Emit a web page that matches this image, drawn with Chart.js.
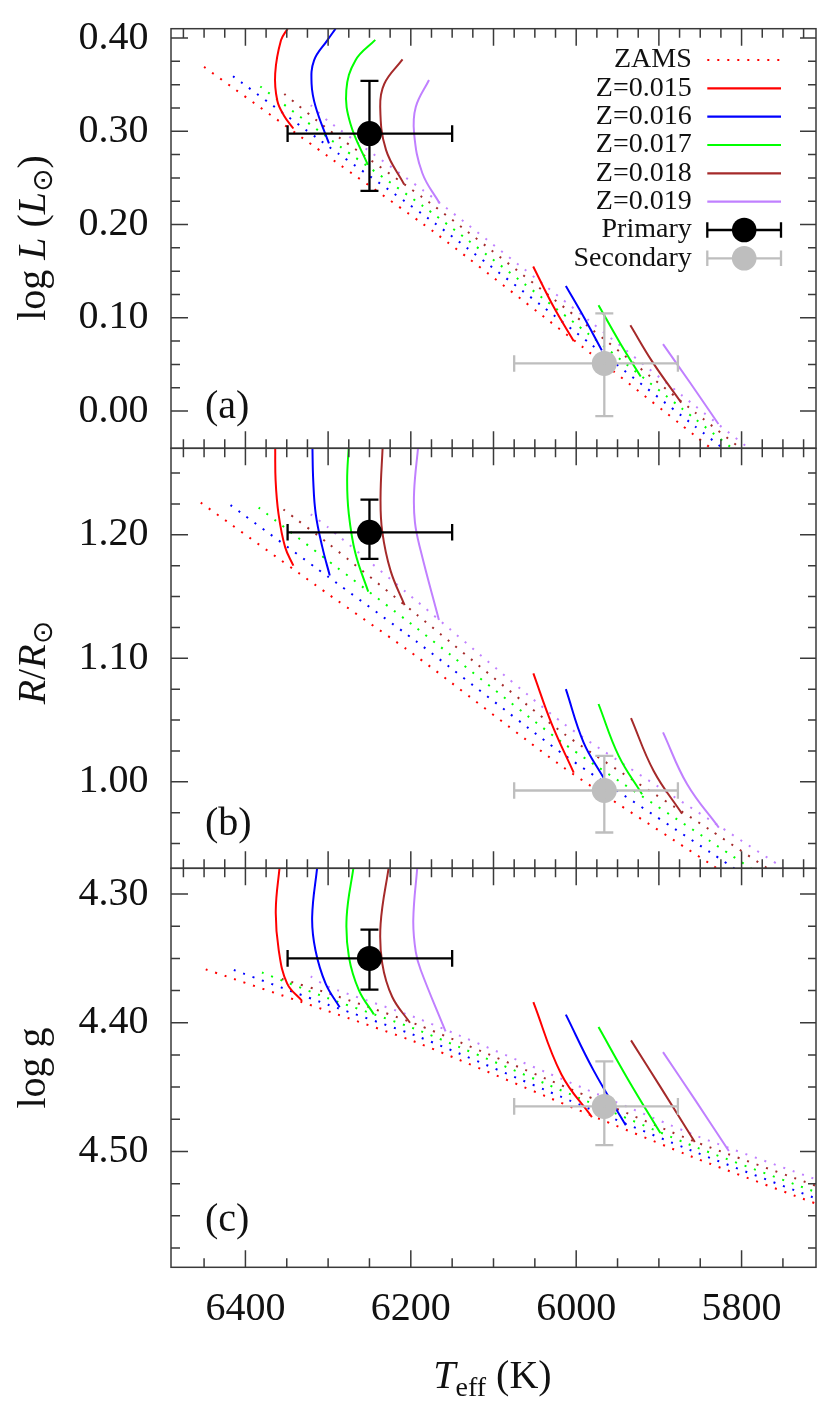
<!DOCTYPE html>
<html><head><meta charset="utf-8">
<script src="https://cdn.jsdelivr.net/npm/chart.js@4.4.1/dist/chart.umd.min.js"></script>
<style>
html,body{margin:0;padding:0;background:#fff;}
#wrap{position:relative;width:837px;height:1412px;background:#fff;}
#wrap canvas{position:absolute;left:0;top:0;}
</style></head><body>
<div id="wrap">
<canvas id="cA" width="837" height="1412"></canvas>
<canvas id="cB" width="837" height="1412"></canvas>
<canvas id="cC" width="837" height="1412"></canvas>
</div>
<script>
// ---------- axes ----------
const teffRange = [5710, 6490];
const teffTickLabels = [6400, 6200, 6000, 5800];
const logLRange = [-0.04, 0.41];
const logLTickLabels = [0.00, 0.10, 0.20, 0.30, 0.40];
const radiusRange = [0.93, 1.27];
const radiusTickLabels = [1.00, 1.10, 1.20];
const loggRange = [4.28, 4.59];
const loggTickLabels = [4.30, 4.40, 4.50];

// ---------- series ----------
const metalLabels = ['Z=0.015', 'Z=0.016', 'Z=0.017', 'Z=0.018', 'Z=0.019'];
const metalColors = ['#ff0000', '#0000ff', '#00ff00', '#a52a2a', '#c080ff'];

// stars: [Primary, Secondary]
const starNames = ['Primary', 'Secondary'];
const starColors = ['#000000', '#bebebe'];
const starTeff = [6250, 5966];
const starTeffLow = [6150, 5877];
const starTeffHigh = [6349, 6075];
const starLogL = [0.2975, 0.051];
const starLogLLow = [0.236, -0.0055];
const starLogLHigh = [0.354, 0.1046];
const starR = [1.202, 0.993];
const starRLow = [1.1805, 0.959];
const starRHigh = [1.2284, 1.021];
const starLogg = [4.350, 4.465];
const starLoggLow = [4.3277, 4.430];
const starLoggHigh = [4.3743, 4.495];

// panel (a): log L  [Teff, value]
const zamsLogL015 = [[6450,0.369],[6300,0.273],[6172,0.192],[6000,0.074],[5857,-0.026],[5760,-0.094]];
const zamsLogL016 = [[6415,0.359],[6300,0.284],[6172,0.202],[6000,0.084],[5857,-0.016],[5760,-0.084]];
const zamsLogL017 = [[6382,0.348],[6300,0.293],[6172,0.211],[6000,0.093],[5857,-0.008],[5760,-0.076]];
const zamsLogL018 = [[6353,0.340],[6300,0.302],[6172,0.220],[6000,0.101],[5857,-0.001],[5760,-0.069]];
const zamsLogL019 = [[6321,0.328],[6300,0.311],[6172,0.228],[6000,0.108],[5857,0.006],[5760,-0.062]];
const isoPLogL015 = [[6349,0.410],[6357,0.3975],[6364,0.362],[6361.5,0.333],[6353.5,0.317],[6342,0.303]];
const isoPLogL016 = [[6291,0.410],[6301,0.3975],[6317,0.376],[6320,0.351],[6315,0.326],[6299,0.287]];
const isoPLogL017 = [[6243,0.398],[6267,0.376],[6278,0.344],[6273,0.308],[6252,0.264]];
const isoPLogL018 = [[6210,0.377],[6232,0.351],[6237,0.326],[6230,0.280],[6208,0.243]];
const isoPLogL019 = [[6178,0.355],[6194,0.326],[6196,0.2975],[6186,0.255],[6165,0.2225]];
const isoSLogL015 = [[6052,0.155],[6027.5,0.112],[6003,0.075]];
const isoSLogL016 = [[6012.5,0.134],[5991,0.101],[5969,0.065]];
const isoSLogL017 = [[5973,0.1135],[5947,0.073],[5922,0.037]];
const isoSLogL018 = [[5934.5,0.092],[5908,0.053],[5873,0.009]];
const isoSLogL019 = [[5895,0.0717],[5862,0.030],[5828,-0.014]];

// panel (b): R/Rsun
const zamsR015 = [[6454,1.226],[6300,1.152],[6194,1.102],[6015,1.0115],[5838,0.9336],[5740,0.890]];
const zamsR016 = [[6418,1.224],[6300,1.166],[6194,1.114],[6015,1.022],[5838,0.943],[5740,0.899]];
const zamsR017 = [[6384,1.222],[6300,1.179],[6194,1.125],[6015,1.031],[5838,0.952],[5740,0.908]];
const zamsR018 = [[6354,1.2205],[6300,1.193],[6194,1.136],[6015,1.039],[5838,0.961],[5740,0.917]];
const zamsR019 = [[6321,1.2165],[6300,1.206],[6194,1.147],[6015,1.047],[5838,0.969],[5740,0.926]];
const isoPR015 = [[6364,1.272],[6363.5,1.244],[6360,1.217],[6352,1.190],[6342,1.175]];
const isoPR016 = [[6319,1.272],[6318,1.244],[6315,1.217],[6307,1.190],[6298,1.167]];
const isoPR017 = [[6275,1.272],[6277,1.244],[6275,1.217],[6267,1.185],[6251.5,1.154]];
const isoPR018 = [[6234,1.272],[6236.6,1.230],[6234.6,1.203],[6224.5,1.171],[6207.5,1.143]];
const isoPR019 = [[6191,1.272],[6196,1.235],[6195,1.210],[6188,1.187],[6166,1.131]];
const isoSR015 = [[6051.8,1.0878],[6029.5,1.0467],[6003,1.0075]];
const isoSR016 = [[6012.5,1.075],[5991,1.0318],[5967,1.0034]];
const isoSR017 = [[5973,1.063],[5948.6,1.021],[5920.4,0.990]];
const isoSR018 = [[5933.7,1.0516],[5906.3,1.0088],[5872,0.9742]];
const isoSR019 = [[5895,1.040],[5865.8,0.998],[5827.5,0.9629]];

// panel (c): log g
const zamsLogg015 = [[6448,4.3585],[6300,4.391],[6190,4.416],[5987,4.4706],[5854,4.5056],[5700,4.543]];
const zamsLogg016 = [[6414,4.359],[6300,4.386],[6190,4.411],[5987,4.466],[5854,4.501],[5700,4.539]];
const zamsLogg017 = [[6380,4.361],[6300,4.381],[6190,4.406],[5987,4.461],[5854,4.497],[5700,4.534]];
const zamsLogg018 = [[6356,4.366],[6300,4.377],[6190,4.402],[5987,4.457],[5854,4.493],[5700,4.529]];
const zamsLogg019 = [[6321,4.364],[6300,4.372],[6190,4.397],[5987,4.452],[5854,4.488],[5700,4.524]];
const isoPLogg015 = [[6358.5,4.278],[6363.3,4.3127],[6359.7,4.3437],[6349.5,4.3696],[6331.5,4.383]];
const isoPLogg016 = [[6313,4.278],[6319.3,4.3179],[6315.3,4.3437],[6303,4.3696],[6286,4.388]];
const isoPLogg017 = [[6269,4.278],[6277.6,4.3179],[6274.8,4.349],[6262.7,4.3748],[6244.7,4.3935]];
const isoPLogg018 = [[6226.4,4.278],[6236.5,4.3231],[6234.5,4.3541],[6222.4,4.380],[6201,4.400]];
const isoPLogg019 = [[6192,4.278],[6197,4.320],[6194,4.345],[6188,4.359],[6158,4.4067]];
const isoSLogg015 = [[6051.8,4.384],[6018,4.440],[5981,4.4733]];
const isoSLogg016 = [[6012.5,4.3937],[5979,4.437],[5940,4.4797]];
const isoSLogg017 = [[5973,4.4033],[5936.6,4.4448],[5898.2,4.4857]];
const isoSLogg018 = [[5933.7,4.4137],[5898,4.450],[5856.6,4.4927]];
const isoSLogg019 = [[5895,4.4228],[5855.8,4.4603],[5815.4,4.4997]];

// ---------- styling ----------
const FAM = '"Liberation Serif", "Times New Roman", serif';
const FN = '40px ' + FAM;
const FI = 'italic 40px ' + FAM;
const FSUB = '28px ' + FAM;
const FSUN = '28px "DejaVu Sans"';
const FRAME = '#3a3a3a';
const TXT = '#111111';

function curve(points, color, dotted) {
  return {
    data: points.map(p => ({x: p[0], y: p[1]})),
    showLine: true, pointRadius: 0, pointHoverRadius: 0, pointHitRadius: 0,
    borderColor: color, borderWidth: 2,
    borderDash: dotted ? [2, 8] : [],
    borderCapStyle: 'butt',
    tension: dotted ? 0.2 : 0.4,
    fill: false, clip: 0, order: dotted ? 3 : 2
  };
}
function starDs(x, y, color) {
  return {
    data: [{x: x, y: y}], showLine: false,
    pointRadius: 12.5, pointHoverRadius: 12.5, pointBorderWidth: 0,
    pointBackgroundColor: color, pointBorderColor: color,
    backgroundColor: color, borderColor: color, order: 0, clip: 0
  };
}
function richText(ctx, segs, x, y, align, rot) {
  ctx.save();
  ctx.translate(x, y);
  if (rot) ctx.rotate(rot);
  ctx.textBaseline = 'alphabetic';
  ctx.textAlign = 'left';
  let w = 0;
  segs.forEach(s => { ctx.font = s.f; w += ctx.measureText(s.t).width; });
  let cx = align === 'center' ? -w / 2 : 0;
  segs.forEach(s => {
    ctx.font = s.f;
    ctx.fillText(s.t, cx, s.dy || 0);
    cx += ctx.measureText(s.t).width;
  });
  ctx.restore();
}

function makeDecor(p) {
  return {
    id: 'decor' + p.name,
    afterDatasetsDraw(chart) {
      const ctx = chart.ctx, xs = chart.scales.x, ys = chart.scales.y;
      ctx.save();
      ctx.lineWidth = 2.3;
      ctx.lineCap = 'butt';
      ctx.setLineDash([]);
      for (let i = 0; i < starTeff.length; i++) {
        ctx.strokeStyle = starColors[i];
        const px = xs.getPixelForValue(starTeff[i]);
        const py = ys.getPixelForValue(p.starVal[i]);
        const x1 = xs.getPixelForValue(starTeffHigh[i]);
        const x2 = xs.getPixelForValue(starTeffLow[i]);
        const y1 = ys.getPixelForValue(p.starLow[i]);
        const y2 = ys.getPixelForValue(p.starHigh[i]);
        ctx.beginPath();
        ctx.moveTo(x1, py); ctx.lineTo(x2, py);
        ctx.moveTo(x1, py - 8.3); ctx.lineTo(x1, py + 8.3);
        ctx.moveTo(x2, py - 8.3); ctx.lineTo(x2, py + 8.3);
        ctx.moveTo(px, y1); ctx.lineTo(px, y2);
        ctx.moveTo(px - 9, y1); ctx.lineTo(px + 9, y1);
        ctx.moveTo(px - 9, y2); ctx.lineTo(px + 9, y2);
        ctx.stroke();
      }
      ctx.restore();
    },
    afterDraw(chart) {
      const ctx = chart.ctx, a = chart.chartArea, xs = chart.scales.x, ys = chart.scales.y;
      ctx.save();
      ctx.setLineDash([]);
      ctx.strokeStyle = FRAME;
      ctx.lineWidth = 1.5;
      ctx.beginPath();
      for (let v = Math.ceil(teffRange[0] / 25) * 25; v <= teffRange[1]; v += 25) {
        const px = xs.getPixelForValue(v);
        const len = v % 100 === 0 ? 17 : 9;
        ctx.moveTo(px, a.top); ctx.lineTo(px, a.top + len);
      }
      const st = p.last ? 50 : 25, mj = p.last ? 200 : 100;
      for (let v = Math.ceil(teffRange[0] / st) * st; v <= teffRange[1]; v += st) {
        const px = xs.getPixelForValue(v);
        const len = v % mj === 0 ? 17 : 9;
        ctx.moveTo(px, a.bottom); ctx.lineTo(px, a.bottom - len);
      }
      const k0 = Math.round(p.minorFrom / 0.025), k1 = Math.round(p.minorTo / 0.025);
      for (let k = k0; k <= k1; k++) {
        const py = ys.getPixelForValue(k * 0.025);
        const major = k % 4 === 0;
        ctx.moveTo(a.left, py); ctx.lineTo(a.left + (major ? 17 : 9), py);
        ctx.moveTo(a.right, py); ctx.lineTo(a.right - (major ? 16 : 8), py);
      }
      ctx.stroke();
      ctx.strokeRect(a.left, a.top, a.right - a.left, a.bottom - a.top);

      ctx.fillStyle = TXT;
      ctx.font = FN;
      ctx.textAlign = 'left';
      ctx.textBaseline = 'alphabetic';
      ctx.fillText(p.label, 205, p.labelBase);

      richText(ctx, p.title, 45.3, p.titleY, 'center', -Math.PI / 2);

      if (p.last) {
        richText(ctx, [
          {t: 'T', f: FI},
          {t: 'eff', f: FSUB, dy: 8},
          {t: ' (K)', f: FN}
        ], 433.3, 1388, 'left', 0);
      }

      if (p.legend) {
        const labels = ['ZAMS'].concat(metalLabels, starNames);
        const y0 = 60, dy = 28.33, tx = 691.7, sx1 = 707.3, sx2 = 781, sc = 744.2;
        ctx.font = '28px ' + FAM;
        ctx.textAlign = 'right';
        ctx.textBaseline = 'middle';
        labels.forEach((lab, i) => {
          const yy = y0 + i * dy;
          ctx.fillStyle = TXT;
          ctx.fillText(lab, tx, yy);
          ctx.lineWidth = 2.2;
          if (i === 0) {
            ctx.strokeStyle = metalColors[0];
            ctx.setLineDash([2, 8]);
            ctx.beginPath(); ctx.moveTo(sx1, yy); ctx.lineTo(sx2, yy); ctx.stroke();
            ctx.setLineDash([]);
          } else if (i <= 5) {
            ctx.strokeStyle = metalColors[i - 1];
            ctx.beginPath(); ctx.moveTo(sx1, yy); ctx.lineTo(sx2, yy); ctx.stroke();
          } else {
            const c = starColors[i - 6];
            ctx.strokeStyle = c; ctx.fillStyle = c; ctx.lineWidth = 2.3;
            ctx.beginPath();
            ctx.moveTo(sx1, yy); ctx.lineTo(sx2, yy);
            ctx.moveTo(sx1, yy - 7.8); ctx.lineTo(sx1, yy + 7.8);
            ctx.moveTo(sx2, yy - 7.8); ctx.lineTo(sx2, yy + 7.8);
            ctx.stroke();
            ctx.beginPath(); ctx.arc(sc, yy, 12.3, 0, Math.PI * 2); ctx.fill();
          }
        });
      }
      ctx.restore();
    }
  };
}

function buildPanel(canvasId, p) {
  const datasets = [];
  for (let i = 0; i < 2; i++) datasets.push(starDs(starTeff[i], p.starVal[i], starColors[i]));
  p.isoP.forEach((c, i) => datasets.push(curve(c, metalColors[i], false)));
  p.isoS.forEach((c, i) => datasets.push(curve(c, metalColors[i], false)));
  p.zams.forEach((c, i) => datasets.push(curve(c, metalColors[i], true)));
  const tickFont = {family: FAM, size: 40};
  const xH = p.last ? 1412 - 1267.3 : 0;
  new Chart(document.getElementById(canvasId), {
    type: 'scatter',
    data: {datasets: datasets},
    options: {
      responsive: false, animation: false, events: [],
      layout: {padding: {left: 0, right: 21, top: p.top, bottom: p.bottom}},
      plugins: {legend: {display: false}, tooltip: {enabled: false}, title: {display: false}},
      scales: {
        x: {
          type: 'linear', min: teffRange[0], max: teffRange[1], reverse: true,
          display: !!p.last,
          afterBuildTicks: s => { s.ticks = teffTickLabels.map(v => ({value: v})); },
          afterFit: s => { s.height = xH; s.paddingLeft = 0; s.paddingRight = 0; },
          grid: {display: false, drawTicks: false}, border: {display: false},
          ticks: {autoSkip: false, maxRotation: 0, minRotation: 0, padding: 18, color: TXT,
                  font: tickFont, callback: v => String(v)}
        },
        y: {
          type: 'linear', min: p.range[0], max: p.range[1], reverse: !!p.reverse,
          afterBuildTicks: s => { s.ticks = p.tickVals.map(v => ({value: v})); },
          afterFit: s => { s.width = 171; s.paddingTop = 0; s.paddingBottom = 0; },
          grid: {display: false, drawTicks: false}, border: {display: false},
          ticks: {autoSkip: false, padding: 22.5, color: TXT, font: tickFont,
                  callback: v => Number(v).toFixed(2)}
        }
      }
    },
    plugins: [makeDecor(p)]
  });
}

buildPanel('cA', {
  name: 'A', top: 28.7, bottom: 1412 - 448.3, range: logLRange, tickVals: logLTickLabels,
  minorFrom: 0.0, minorTo: 0.40,
  zams: [zamsLogL015, zamsLogL016, zamsLogL017, zamsLogL018, zamsLogL019],
  isoP: [isoPLogL015, isoPLogL016, isoPLogL017, isoPLogL018, isoPLogL019],
  isoS: [isoSLogL015, isoSLogL016, isoSLogL017, isoSLogL018, isoSLogL019],
  starVal: starLogL, starLow: starLogLLow, starHigh: starLogLHigh,
  label: '(a)', labelBase: 418,
  title: [{t: 'log ', f: FN}, {t: 'L', f: FI}, {t: ' (', f: FN}, {t: 'L', f: FI},
          {t: '\u2299', f: FSUN, dy: 6.5}, {t: ')', f: FN}],
  titleY: 238, legend: true
});
buildPanel('cB', {
  name: 'B', top: 448.3, bottom: 1412 - 868.3, range: radiusRange, tickVals: radiusTickLabels,
  minorFrom: 0.95, minorTo: 1.25,
  zams: [zamsR015, zamsR016, zamsR017, zamsR018, zamsR019],
  isoP: [isoPR015, isoPR016, isoPR017, isoPR018, isoPR019],
  isoS: [isoSR015, isoSR016, isoSR017, isoSR018, isoSR019],
  starVal: starR, starLow: starRLow, starHigh: starRHigh,
  label: '(b)', labelBase: 834.5,
  title: [{t: 'R', f: FI}, {t: '/', f: FN}, {t: 'R', f: FI}, {t: '\u2299', f: FSUN, dy: 6.5}],
  titleY: 662.6
});
buildPanel('cC', {
  name: 'C', top: 868.3, bottom: 0, range: loggRange, tickVals: loggTickLabels, reverse: true,
  minorFrom: 4.30, minorTo: 4.575, last: true,
  zams: [zamsLogg015, zamsLogg016, zamsLogg017, zamsLogg018, zamsLogg019],
  isoP: [isoPLogg015, isoPLogg016, isoPLogg017, isoPLogg018, isoPLogg019],
  isoS: [isoSLogg015, isoSLogg016, isoSLogg017, isoSLogg018, isoSLogg019],
  starVal: starLogg, starLow: starLoggLow, starHigh: starLoggHigh,
  label: '(c)', labelBase: 1231,
  title: [{t: 'log g', f: FN}],
  titleY: 1068
});
</script>
</body></html>
